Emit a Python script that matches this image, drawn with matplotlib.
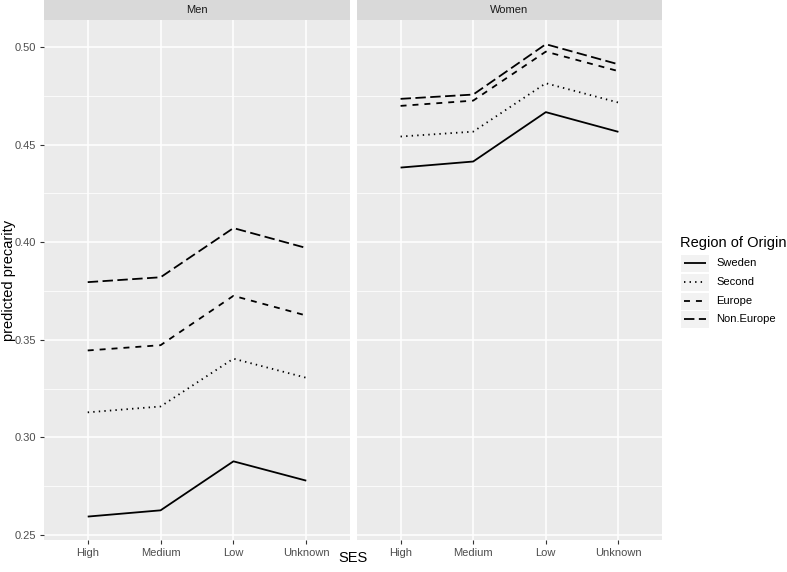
import matplotlib as mpl
mpl.use("Agg")
import matplotlib.pyplot as plt
import numpy as np

mpl.rcParams['font.family'] = ['Liberation Sans', 'DejaVu Sans']
mpl.rcParams['lines.scale_dashes'] = False

ses_levels = ['High', 'Medium', 'Low', 'Unknown']
panels = ['Men', 'Women']
regions = ['Sweden', 'Second', 'Europe', 'Non.Europe']

# predicted precarity
men_sweden = [0.2594, 0.2626, 0.2877, 0.2778]
men_second = [0.3128, 0.3158, 0.3403, 0.3305]
men_europe = [0.3445, 0.3472, 0.3725, 0.3624]
men_noneurope = [0.3795, 0.3820, 0.4072, 0.3970]

women_sweden = [0.4382, 0.4413, 0.4666, 0.4565]
women_second = [0.4541, 0.4566, 0.4814, 0.4715]
women_europe = [0.4698, 0.4725, 0.4976, 0.4876]
women_noneurope = [0.4734, 0.4756, 0.5014, 0.4911]

panel_data = {
    'Men': [men_sweden, men_second, men_europe, men_noneurope],
    'Women': [women_sweden, women_second, women_europe, women_noneurope],
}

# ggplot-like linetypes (in points)
dash_styles = [None, (1.0, 3.0), (4.3, 4.3), (7.5, 3.2)]
lw = 1.3

W, H = 787, 572
fig = plt.figure(figsize=(W / 100, H / 100), dpi=100)

panel_px = {'Men': (44, 350), 'Women': (357, 662)}
top_px, bot_px, strip_px = 20, 540, 20
x = np.arange(len(ses_levels))

for name in panels:
    x0, x1 = panel_px[name]
    ax = fig.add_axes([x0 / W, (H - bot_px) / H, (x1 - x0) / W, (bot_px - top_px) / H])
    ax.set_facecolor('#EBEBEB')
    for s in ax.spines.values():
        s.set_visible(False)
    for i, vals in enumerate(panel_data[name]):
        line, = ax.plot(x, vals, color='black', linewidth=lw, solid_capstyle='butt',
                        dash_capstyle='butt')
        if dash_styles[i] is not None:
            line.set_dashes(dash_styles[i])
    ax.set_xlim(-0.6, 3.6)
    ax.set_ylim(0.2474, 0.5138)
    ax.set_xticks(x)
    ax.set_xticklabels(ses_levels)
    ax.set_yticks([0.25, 0.30, 0.35, 0.40, 0.45, 0.50])
    ax.set_yticks([0.275, 0.325, 0.375, 0.425, 0.475], minor=True)
    ax.yaxis.set_major_formatter(mpl.ticker.FormatStrFormatter('%.2f'))
    ax.grid(True, which='major', color='white', linewidth=1.1)
    ax.grid(True, which='minor', axis='y', color='white', linewidth=0.55)
    ax.set_axisbelow(True)
    ax.tick_params(axis='both', which='major', length=3, width=0.8, color='#333333',
                   labelsize=8, labelcolor='#4D4D4D', pad=3)
    ax.tick_params(axis='y', which='minor', length=0)
    if name == 'Women':
        ax.tick_params(axis='y', which='major', left=False, labelleft=False)

    sax = fig.add_axes([x0 / W, (H - strip_px) / H, (x1 - x0) / W, strip_px / H])
    sax.set_facecolor('#D9D9D9')
    sax.set_xticks([])
    sax.set_yticks([])
    for s in sax.spines.values():
        s.set_visible(False)
    sax.text(0.5, 0.5, name, ha='center', va='center', fontsize=8, color='#1A1A1A',
             transform=sax.transAxes)

fig.text(353 / W, 1 - 558 / H, 'SES', ha='center', va='center', fontsize=10.5)
fig.text(9 / W, 1 - 280 / H, 'predicted precarity', ha='center', va='center',
         fontsize=10.5, rotation=90)

# legend
fig.text(680 / W, 1 - 243 / H, 'Region of Origin', ha='left', va='center', fontsize=10.5)
key_y = [263, 282, 301, 319]
for i, lab in enumerate(regions):
    yk = key_y[i]
    kax = fig.add_axes([681 / W, 1 - (yk + 9) / H, 28 / W, 17.5 / H])
    kax.set_facecolor('#F2F2F2')
    kax.set_xticks([])
    kax.set_yticks([])
    for s in kax.spines.values():
        s.set_visible(False)
    kax.set_xlim(0, 1)
    kax.set_ylim(0, 1)
    line, = kax.plot([0.1, 0.9], [0.5, 0.5], color='black', linewidth=lw,
                     solid_capstyle='butt', dash_capstyle='butt')
    if dash_styles[i] is not None:
        line.set_dashes(dash_styles[i])
    fig.text(716 / W, 1 - yk / H, lab, ha='left', va='center', fontsize=8, color='black')

fig.savefig('out.png', dpi=100)
